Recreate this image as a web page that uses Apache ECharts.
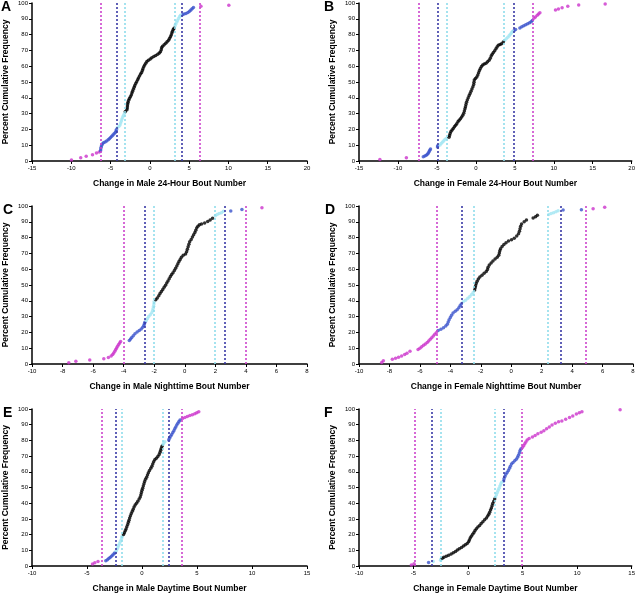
<!DOCTYPE html>
<html><head><meta charset="utf-8">
<script src="https://cdn.jsdelivr.net/npm/echarts@6/dist/echarts.min.js"></script>
<style>html,body{margin:0;padding:0;background:#fff}#c{width:638px;height:595px}</style>
</head><body><div id="c"></div>
<script>
// ---- data: [change, percent cumulative frequency] ----
const aPts = [[-9.98,0.6],[-8.8,2.0],[-8.1,3.0],[-7.3,4.0],[-6.8,5.0],[-6.45,5.7],
[-6.27,6.5],[-6.25,7.6],[-6.2,8.7],[-6.14,9.8],[-6.05,10.8],[-5.9,11.5],[-5.7,12.1],[-5.5,12.7],[-5.3,13.4],[-5.15,14.1],[-5.0,14.8],[-4.85,15.6],[-4.7,16.4],[-4.55,17.2],[-4.4,18.1],[-4.3,19.0],[-4.25,20.0],
[-4.15,21.0],[-3.95,21.8],[-3.8,22.8],[-3.72,24.0],[-3.63,25.3],[-3.55,26.6],[-3.45,27.8],[-3.33,29.0],[-3.22,30.2],
[-3.12,31.4],[-2.92,32.4],[-2.88,33.6],[-2.85,34.8],[-2.82,36.0],[-2.78,37.2],[-2.7,38.4],[-2.6,39.5],[-2.48,40.6],[-2.36,41.8],[-2.28,43.0],
[-2.2,44.2],[-2.1,45.4],[-2.0,46.6],[-1.92,47.8],[-1.8,49.0],[-1.68,50.2],[-1.55,51.4],[-1.45,52.6],[-1.32,53.8],[-1.18,55.0],
[-1.05,56.0],[-0.95,57.2],[-0.88,58.4],[-0.78,59.6],[-0.66,60.8],[-0.52,61.9],[-0.38,63.0],[-0.18,63.8],[0.05,64.6],[0.25,65.4],
[0.5,66.1],[0.75,66.8],[1.0,67.5],[1.2,68.3],[1.35,69.2],[1.45,70.4],[1.5,71.6],[1.62,72.7],[1.82,73.6],[2.02,74.5],
[2.2,75.4],[2.38,76.4],[2.5,77.5],[2.62,78.6],[2.72,79.8],[2.8,81.0],[2.88,82.1],[2.98,83.2],[3.08,84.0],
[3.2,85.4],[3.28,86.6],[3.4,87.8],[3.52,89.0],[3.65,90.2],[3.78,91.3],[3.9,92.2],
[4.15,92.6],[4.35,93.0],[4.6,93.4],[4.85,94.0],[5.05,94.8],[5.22,95.6],[5.38,96.4],[5.55,97.2],[6.5,98.0],[10.05,98.6]];

const bPts = [[-12.32,1.0],[-8.92,2.0],[-6.75,2.7],[-6.55,3.1],[-6.37,3.6],[-6.22,4.3],[-6.1,5.1],[-6.0,5.9],[-5.92,6.8],[-5.82,7.6],[-4.92,8.8],[-4.9,9.6],
[-4.6,10.2],[-4.45,11.0],[-4.3,11.9],[-4.15,12.7],[-4.0,13.5],[-3.82,14.2],
[-3.45,15.0],[-3.38,16.2],[-3.3,17.4],[-3.2,18.6],[-3.05,19.6],[-2.9,20.6],[-2.75,21.6],[-2.6,22.6],[-2.45,23.6],[-2.3,24.8],[-2.15,25.8],[-1.98,26.8],[-1.82,27.8],[-1.68,29.0],[-1.56,30.2],[-1.47,31.6],[-1.4,33.0],[-1.33,34.4],[-1.27,35.8],[-1.2,37.2],[-1.1,38.6],[-0.98,40.0],[-0.86,41.4],[-0.74,42.8],[-0.62,44.2],[-0.5,45.6],[-0.38,47.0],[-0.28,48.4],[-0.24,49.8],[-0.2,51.2],[-0.05,52.2],[0.12,53.2],[0.25,54.4],[0.35,55.8],[0.46,57.2],[0.58,58.6],[0.72,59.8],[0.88,60.8],[1.08,61.4],[1.3,61.9],[1.5,62.8],[1.7,63.8],[1.85,65.0],[1.97,66.4],[2.1,67.6],[2.25,68.6],[2.42,69.8],[2.58,71.0],[2.72,72.2],[2.88,73.2],[3.1,73.8],[3.3,74.2],[3.52,75.3],
[3.7,76.3],[3.9,77.3],[4.1,78.3],[4.28,79.3],[4.42,80.3],[4.58,81.2],[4.7,81.9],
[4.9,82.5],[5.1,83.2],[5.65,84.2],[5.9,84.9],[6.15,85.6],[6.4,86.2],[6.65,86.8],[6.9,87.5],[7.1,88.2],[7.25,88.9],
[7.45,90.3],[7.65,91.2],[7.88,92.2],[8.05,93.0],[8.22,93.8],[10.22,95.6],[10.6,96.2],[11.07,97.0],[11.8,98.0],[13.2,98.7],[16.6,99.4]];

const cPts = [[-7.59,0.8],[-7.13,1.7],[-6.22,2.6],[-5.3,3.4],[-5.0,4.1],[-4.82,5.0],[-4.72,6.0],[-4.65,7.0],[-4.58,8.1],[-4.52,9.1],[-4.46,10.2],[-4.4,11.2],[-4.33,12.3],[-4.26,13.3],[-4.2,14.2],
[-3.63,14.8],[-3.55,15.8],[-3.47,16.8],[-3.37,17.9],[-3.26,19.2],[-3.12,20.2],[-2.98,21.2],[-2.85,22.2],[-2.75,23.2],[-2.68,24.4],[-2.64,25.4],[-2.61,26.4],
[-2.52,27.6],[-2.44,28.8],[-2.36,30.0],[-2.26,31.2],[-2.16,32.4],[-2.1,33.8],[-2.07,35.2],[-2.04,36.6],[-2.02,38.0],[-2.01,39.4],
[-1.9,40.6],[-1.8,41.8],[-1.7,43.2],[-1.62,44.6],[-1.53,45.9],[-1.44,47.2],[-1.35,48.5],[-1.26,49.8],[-1.18,51.2],[-1.1,52.6],[-1.02,54.0],[-0.94,55.4],[-0.86,56.6],[-0.77,57.8],[-0.68,59.2],[-0.6,60.6],[-0.52,62.0],[-0.45,63.4],[-0.38,64.8],[-0.3,66.2],[-0.22,67.6],[-0.1,68.8],[0.05,69.6],[0.12,71.0],[0.17,72.6],[0.22,74.2],[0.27,75.8],[0.32,77.4],[0.42,78.8],[0.5,80.4],[0.58,81.8],[0.66,83.2],[0.72,84.6],[0.78,86.0],[0.86,87.2],[0.96,88.2],[1.1,88.6],[1.3,89.2],[1.5,90.2],[1.66,91.2],[1.82,92.2],
[2.0,93.8],[2.12,94.6],[2.25,95.3],[2.4,95.8],[2.53,96.6],
[3.01,96.8],[3.74,97.8],[5.05,98.9]];

const dPts = [[-8.51,1.0],[-8.4,2.0],[-7.81,3.0],[-7.6,3.6],[-7.4,4.3],[-7.2,5.1],[-7.0,6.0],[-6.85,6.8],[-6.65,8.0],[-6.12,9.2],[-6.0,10.0],[-5.88,10.9],[-5.76,11.8],[-5.64,12.7],[-5.52,13.6],[-5.42,14.6],[-5.32,15.6],[-5.22,16.6],[-5.12,17.7],[-5.02,18.8],[-4.92,19.8],
[-4.8,21.2],[-4.62,22.0],[-4.45,23.0],[-4.3,24.0],[-4.2,25.2],[-4.14,26.6],[-4.08,28.0],[-4.0,29.4],[-3.92,30.8],[-3.82,32.2],[-3.68,33.4],[-3.55,34.4],[-3.44,35.6],[-3.36,36.8],[-3.28,38.0],
[-3.15,39.4],[-3.0,40.4],[-2.85,41.6],[-2.72,42.8],[-2.6,44.0],[-2.5,45.3],
[-2.4,46.8],[-2.37,48.2],[-2.34,49.6],[-2.3,51.0],[-2.24,52.4],[-2.16,53.8],[-2.06,55.0],[-1.92,56.2],[-1.78,57.4],[-1.64,58.6],[-1.56,59.8],[-1.52,61.2],[-1.44,62.6],[-1.32,64.0],[-1.2,65.2],[-1.06,66.4],[-0.92,67.6],[-0.82,68.8],[-0.78,70.2],[-0.75,71.6],[-0.7,73.0],[-0.6,74.4],[-0.48,75.6],[-0.34,76.8],[-0.18,77.8],[0.02,78.6],[0.2,79.6],[0.36,81.0],[0.48,82.4],[0.54,84.0],[0.58,85.6],[0.62,87.2],[0.68,88.6],[0.85,90.0],[1.0,91.2],[1.44,92.4],[1.6,93.2],[1.72,94.2],
[2.47,94.6],[2.62,95.2],[2.78,95.8],[2.94,96.4],[3.08,97.0],
[3.41,97.4],[4.61,97.6],[5.38,98.3],[6.14,99.2]];

const ePts = [[-4.5,1.2],[-4.29,2.0],[-4.0,2.8],
[-3.29,3.4],[-3.15,4.0],[-3.02,4.7],[-2.9,5.4],[-2.78,6.2],[-2.66,7.0],[-2.54,7.8],[-2.45,8.6],
[-2.36,9.4],[-2.28,10.6],[-2.2,11.8],[-2.13,13.0],[-2.05,14.2],[-1.98,15.4],[-1.9,16.6],[-1.84,17.8],[-1.82,18.8],
[-1.68,20.0],[-1.6,21.2],[-1.52,22.4],[-1.45,23.6],[-1.38,25.0],[-1.3,26.4],[-1.24,27.8],[-1.18,29.2],[-1.12,30.6],[-1.05,32.0],[-0.97,33.4],[-0.88,34.8],[-0.8,36.2],[-0.72,37.6],[-0.62,38.8],[-0.5,40.0],[-0.38,41.2],[-0.26,42.6],[-0.16,44.0],[-0.1,45.4],[-0.05,46.8],[0.0,48.2],[0.06,49.6],[0.12,51.0],[0.18,52.4],[0.24,53.8],[0.32,55.2],[0.42,56.6],[0.5,58.0],[0.58,59.4],[0.68,60.8],[0.8,62.2],[0.9,63.6],[0.98,65.0],[1.06,66.4],[1.16,67.6],[1.3,68.6],[1.44,69.8],[1.56,71.0],[1.64,72.4],[1.7,73.8],[1.76,75.0],[1.82,76.2],
[1.9,77.4],[1.98,78.4],[2.08,79.2],
[2.43,80.2],[2.5,81.4],[2.6,82.6],[2.7,83.8],[2.8,85.0],[2.9,86.2],[2.98,87.4],[3.07,88.6],[3.16,89.8],[3.26,91.0],[3.36,92.0],[3.46,93.0],
[3.68,94.0],[3.9,94.6],[4.12,95.2],[4.35,95.8],[4.58,96.4],[4.8,97.0],[4.98,97.6],[5.16,98.3]];

const fPts = [[-5.2,0.6],[-4.95,1.4],
[-3.62,2.2],[-3.2,2.8],[-2.52,3.6],[-2.48,4.4],
[-2.36,5.0],[-2.22,5.6],[-2.0,6.2],[-1.78,6.9],[-1.55,7.6],[-1.35,8.4],[-1.15,9.3],[-0.98,10.2],[-0.8,11.0],[-0.6,11.8],[-0.42,12.8],[-0.25,13.6],[-0.08,14.4],[0.05,15.4],[0.12,16.6],[0.2,17.8],[0.3,19.0],[0.42,20.2],[0.54,21.4],[0.64,22.6],[0.76,23.8],[0.9,24.8],[1.06,25.8],[1.2,27.0],[1.36,28.2],[1.52,29.4],[1.68,30.6],[1.8,31.8],[1.9,33.0],[1.98,34.2],[2.06,35.6],[2.14,37.0],[2.2,38.4],[2.26,39.8],[2.36,41.2],[2.44,42.6],
[2.52,44.0],[2.6,45.4],[2.68,46.8],[2.76,48.2],[2.84,49.6],[2.92,51.0],[3.0,52.2],[3.08,53.4],
[3.26,54.2],[3.3,55.6],[3.38,57.0],[3.46,58.4],[3.58,59.6],[3.7,60.8],[3.8,62.2],[3.88,63.6],[3.98,65.0],[4.12,66.0],[4.28,67.0],[4.42,68.0],[4.54,69.2],[4.62,70.6],[4.7,72.0],[4.76,73.4],[4.84,74.6],
[4.98,75.4],[5.1,76.6],[5.2,77.8],[5.3,79.0],[5.42,80.2],[5.6,81.2],[5.9,82.2],[6.15,83.2],[6.4,84.2],[6.7,85.2],[6.95,86.2],[7.2,87.4],[7.45,88.6],[7.7,89.8],[8.0,91.0],[8.3,91.8],[8.6,92.4],[8.95,93.4],[9.3,94.6],[9.6,95.6],[9.93,96.8],[10.2,97.6],[10.44,98.2],[13.94,99.5]];

// threshold lines: [outer-, middle-, inner-, inner+, middle+, outer+]
const aLines = [-6.3,-4.22,-3.18,3.15,4.12,6.3];
const bLines = [-7.3,-4.88,-3.69,3.63,4.82,7.33];
const cLines = [-3.99,-2.6,-2.0,1.99,2.64,4.02];
const dLines = [-4.9,-3.26,-2.48,2.42,3.23,4.9];
const eLines = [-3.62,-2.41,-1.8,1.88,2.42,3.61];
const fLines = [-4.93,-3.29,-2.47,2.45,3.24,4.88];

const letters = ['A','B','C','D','E','F'];
const xTitles = ['Change in Male 24-Hour Bout Number','Change in Female 24-Hour Bout Number',
  'Change in Male Nighttime Bout Number','Change in Female Nighttime Bout Number',
  'Change in Male Daytime Bout Number','Change in Female Daytime Bout Number'];
const xRanges = [[-15,20,5],[-15,20,5],[-10,8,2],[-10,8,2],[-10,15,5],[-10,15,5]];
const yRange = [0,100,10];
const yTitle = 'Percent Cumulative Frequency';

const allPts = [aPts,bPts,cPts,dPts,ePts,fPts];
const allLines = [aLines,bLines,cLines,dLines,eLines,fLines];

// ---- layout / style ----
const FONT = '"Liberation Sans", Arial, Helvetica, sans-serif';
const grids = [
  {left:32, top:3, width:275, height:158},
  {left:359, top:3, width:274, height:158},
  {left:32, top:206, width:275, height:158},
  {left:359, top:206, width:274, height:158},
  {left:32, top:409, width:275, height:157},
  {left:359, top:409, width:274, height:157}
];
const letterPos = [[1,0],[324,0],[3,203],[325,203],[3,406],[324,406]];
const DOT = {mag:'#cc33cc', blue:'#3a52cc', cyan:'#a3e6f2', black:'#000000'};
const LINEC = ['#cc44cc','#3a3aa6','#8fdcec','#8fdcec','#3a3aa6','#cc44cc'];

function classify(x, L){
  if (x < L[0] || x > L[5]) return 'mag';
  if (x < L[1] || x > L[4]) return 'blue';
  if (x < L[2] || x > L[3]) return 'cyan';
  return 'black';
}

const xAxis = [], yAxis = [], series = [], graphic = [];
allPts.forEach((pts, i) => {
  const r = xRanges[i];
  xAxis.push({
    gridIndex:i, type:'value', min:r[0], max:r[1], interval:r[2],
    axisLine:{onZero:false, lineStyle:{color:'#000', width:1.5}},
    axisTick:{show:true, length:3, lineStyle:{color:'#000'}},
    axisLabel:{fontSize:6, color:'#000', margin:4, fontFamily:FONT},
    splitLine:{show:false},
    name:xTitles[i], nameLocation:'middle', nameGap:18,
    nameTextStyle:{fontSize:8.5, fontWeight:'bold', color:'#000', fontFamily:FONT}
  });
  yAxis.push({
    gridIndex:i, type:'value', min:yRange[0], max:yRange[1], interval:yRange[2],
    axisLine:{show:true, onZero:false, lineStyle:{color:'#000', width:1.5}},
    axisTick:{show:true, length:3, lineStyle:{color:'#000'}},
    axisLabel:{fontSize:6, color:'#000', margin:4, fontFamily:FONT},
    splitLine:{show:false},
    name:yTitle, nameLocation:'middle', nameGap:22,
    nameTextStyle:{fontSize:8.5, fontWeight:'bold', color:'#000', fontFamily:FONT}
  });
  const groups = {mag:[], blue:[], cyan:[], black:[]};
  pts.forEach(p => groups[classify(p[0], allLines[i])].push(p));
  // threshold lines
  series.push({
    type:'line', xAxisIndex:i, yAxisIndex:i, data:[], z:1, silent:true,
    markLine:{
      silent:true, symbol:['none','none'], label:{show:false},
      data: allLines[i].map((v,j)=>({xAxis:v, lineStyle:{color:LINEC[j], type:[2,2], width:1.6}}))
    }
  });
  ['mag','blue','cyan','black'].forEach(k => {
    series.push({
      type:'scatter', xAxisIndex:i, yAxisIndex:i, data:groups[k], z:3,
      symbol:'circle', symbolSize:3.5, silent:true,
      itemStyle:{color:DOT[k]}
    });
  });
  graphic.push({type:'text', left:letterPos[i][0], top:letterPos[i][1],
    style:{text:letters[i], font:'bold 14px '+FONT, fill:'#000'}});
});

const chart = echarts.init(document.getElementById('c'), null, {renderer:'canvas'});
chart.setOption({
  animation:false,
  backgroundColor:'#fff',
  grid:grids, xAxis, yAxis, series, graphic
});
</script>
</body></html>
